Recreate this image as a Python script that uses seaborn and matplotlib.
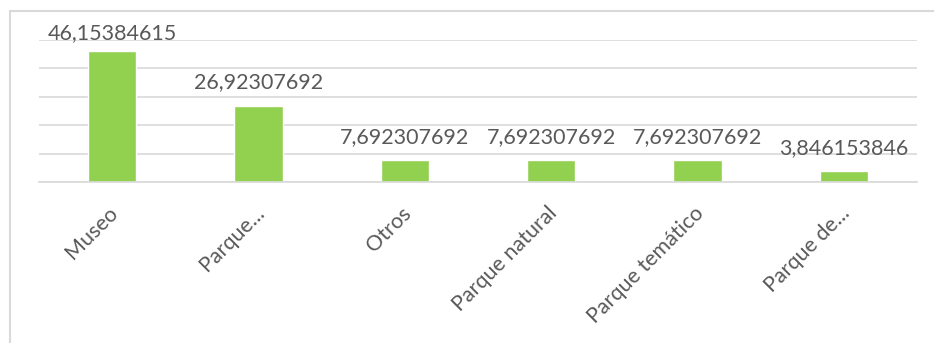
import matplotlib
matplotlib.use("Agg")
import matplotlib.pyplot as plt
from matplotlib.patches import Rectangle
import seaborn as sns
import pandas as pd

categories = ["Museo", "Parque...", "Otros", "Parque natural", "Parque temático", "Parque de..."]
values = [46.15384615, 26.92307692, 7.692307692, 7.692307692, 7.692307692, 3.846153846]
value_labels = ["46,15384615", "26,92307692", "7,692307692", "7,692307692", "7,692307692", "3,846153846"]
y_ticks = [0, 10, 20, 30, 40, 50]

sns.set_theme(style="white")
plt.rcParams["font.family"] = ["Lato", "DejaVu Sans"]

TEXT = "#595959"
GRID = "#D9D9D9"
BAR = "#92D050"
W, H, DPI = 934, 343, 100

fig = plt.figure(figsize=(W / DPI, H / DPI), dpi=DPI)
ax = fig.add_axes([39 / W, (H - 182) / H, (917 - 39) / W, (182 - 40) / H])

df = pd.DataFrame({"categoria": categories, "valor": values})
sns.barplot(data=df, x="categoria", y="valor", color=BAR, saturation=1,
            width=0.33, ax=ax, errorbar=None)

ax.set_ylim(0, 50)
ax.set_xlim(-0.5, len(categories) - 0.5)
ax.set_yticks(y_ticks)
ax.yaxis.grid(True, color=GRID, linewidth=1.2)
ax.set_axisbelow(True)
ax.tick_params(axis="y", left=False, labelleft=False)
ax.tick_params(axis="x", bottom=False, pad=0)
for side in ["top", "right", "left"]:
    ax.spines[side].set_visible(False)
ax.spines["bottom"].set_color(GRID)
ax.spines["bottom"].set_linewidth(1.2)
ax.set_xlabel("")
ax.set_ylabel("")
ax.set_xticks(range(len(categories)))
ax.set_xticklabels([])

# rotated category labels hanging below the baseline
for i, name in enumerate(categories):
    ax.annotate(name, xy=(i, 0), xycoords="data", xytext=(-3, -15),
                textcoords="offset points", rotation=45, rotation_mode="anchor",
                ha="right", va="top", fontsize=15.5, color=TEXT)

# value labels above each bar, kept inside the chart area
fig.canvas.draw()
top_limit = H - 39
for i, (v, lab) in enumerate(zip(values, value_labels)):
    bar_y = ax.transData.transform((i, v))[1]
    off_px = min(17, top_limit - bar_y)
    ax.annotate(lab, xy=(i, v), xytext=(0, off_px * 72 / DPI),
                textcoords="offset points", ha="center", va="baseline",
                fontsize=15.5, color=TEXT)

# chart frame
fig.patches.append(Rectangle((10 / W, -0.2), 1.0, (H - 11) / H + 0.2,
                             transform=fig.transFigure, fill=False,
                             edgecolor=GRID, linewidth=1.5))

fig.savefig("out.png", dpi=DPI)
